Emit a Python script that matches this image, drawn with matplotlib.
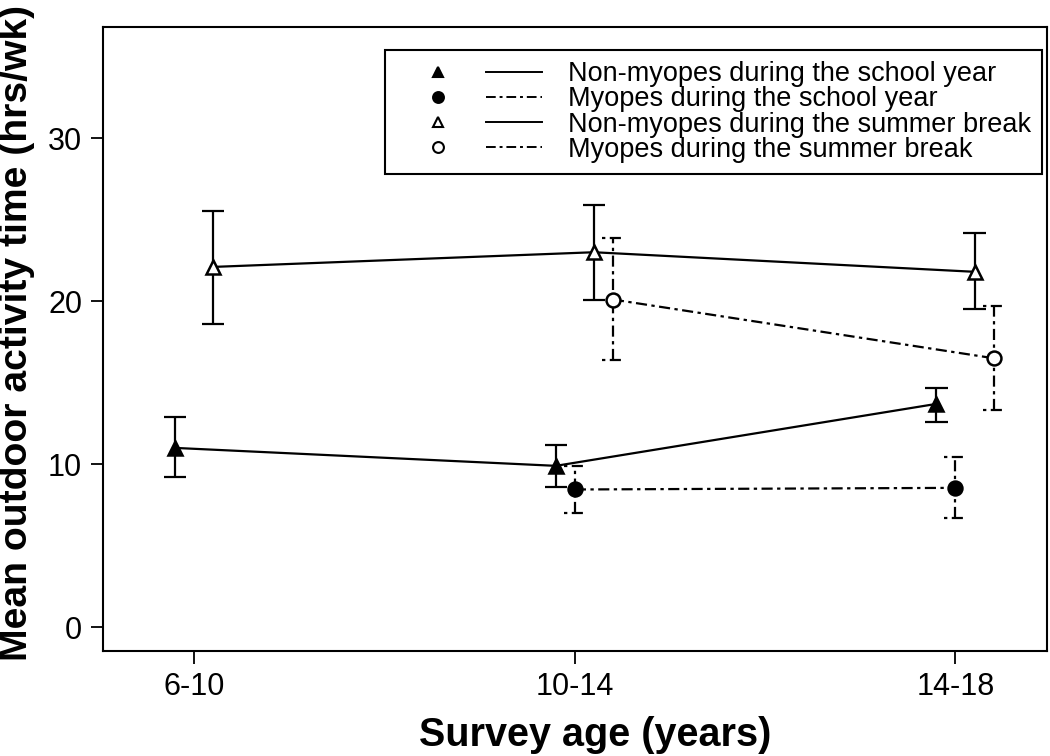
import matplotlib
matplotlib.use("Agg")
import numpy as np
import matplotlib.pyplot as plt
from matplotlib.lines import Line2D
from matplotlib.legend_handler import HandlerBase

plt.rcParams["font.family"] = ["Liberation Sans", "DejaVu Sans"]

# survey age groups
ages = ["6-10", "10-14", "14-18"]

# mean outdoor time (hrs/wk) with lower / upper error bar ends
nm_school = [11.0, 9.9, 13.7]
nm_school_lo = [9.2, 8.6, 12.6]
nm_school_hi = [12.9, 11.2, 14.7]

m_school = [np.nan, 8.45, 8.55]
m_school_lo = [np.nan, 7.0, 6.7]
m_school_hi = [np.nan, 9.9, 10.45]

nm_summer = [22.1, 23.0, 21.8]
nm_summer_lo = [18.6, 20.1, 19.5]
nm_summer_hi = [25.5, 25.9, 24.2]

m_summer = [np.nan, 20.1, 16.5]
m_summer_lo = [np.nan, 16.4, 13.3]
m_summer_hi = [np.nan, 23.9, 19.7]

labels = [
    "Non-myopes during the school year",
    "Myopes during the school year",
    "Non-myopes during the summer break",
    "Myopes during the summer break",
]

DASHDOT = (0, (5, 2, 1.5, 2))
CAP_DASHDOT = (7, (5, 2, 1.5, 2))  # start on the dot so caps look centred

# (values, lo, hi, x offset, marker, filled, linestyle, cap style)
series = [
    (nm_school, nm_school_lo, nm_school_hi, -0.05, "^", True, "-", "-"),
    (m_school, m_school_lo, m_school_hi, 0.0, "o", True, DASHDOT, CAP_DASHDOT),
    (nm_summer, nm_summer_lo, nm_summer_hi, 0.05, "^", False, "-", "-"),
    (m_summer, m_summer_lo, m_summer_hi, 0.10, "o", False, DASHDOT, CAP_DASHDOT),
]


class MarkerThenLine(HandlerBase):
    """Legend key: marker on its own, then a separate line sample."""

    def __init__(self, marker_at=0.29, line_from=0.617):
        super().__init__()
        self.marker_at = marker_at
        self.line_from = line_from

    def create_artists(self, legend, orig_handle, xdescent, ydescent,
                       width, height, fontsize, trans):
        mk, ln = orig_handle
        y = height / 2 - ydescent
        m = Line2D([width * self.marker_at - xdescent], [y])
        m.update_from(mk)
        m.set_transform(trans)
        l = Line2D([width * self.line_from - xdescent, width - xdescent], [y, y])
        l.update_from(ln)
        l.set_transform(trans)
        return [l, m]


fig = plt.figure(figsize=(10.5, 7.56), dpi=100)
ax = fig.add_axes([0.098, 0.139, 0.899, 0.825])

cap = 0.029
handles = []
for vals, lo, hi, off, mk, filled, ls, cls in series:
    y = np.array(vals, float)
    lo = np.array(lo, float)
    hi = np.array(hi, float)
    x = np.arange(len(ages)) + off
    ok = ~np.isnan(y)
    ax.plot(x[ok], y[ok], ls=ls, color="k", lw=1.6, zorder=2)
    ax.vlines(x[ok], lo[ok], hi[ok], linestyles=[ls], colors="k", lw=1.6, zorder=2)
    ax.hlines(lo[ok], x[ok] - cap, x[ok] + cap, linestyles=[cls], colors="k", lw=1.6, zorder=2)
    ax.hlines(hi[ok], x[ok] - cap, x[ok] + cap, linestyles=[cls], colors="k", lw=1.6, zorder=2)
    face = "k" if filled else "white"
    ax.plot(x[ok], y[ok], marker=mk, ms=10, mfc=face, mec="k", mew=1.8,
            ls="none", zorder=3)
    handles.append((
        Line2D([], [], marker=mk, ms=7.8, mfc=face, mec="k", mew=1.5, ls="none"),
        Line2D([], [], ls=ls, color="k", lw=1.4),
    ))

fs = 19.5
fs_px = fs * 100 / 72
leg = ax.legend(
    handles, labels,
    handler_map={tuple: MarkerThenLine()},
    loc="upper left", bbox_to_anchor=(0.2987, 0.963), borderaxespad=0,
    fontsize=fs, handlelength=146 / fs_px, handletextpad=26 / fs_px,
    labelspacing=-0.03, borderpad=0.4, fancybox=False, framealpha=1,
    edgecolor="k",
)
leg.get_frame().set_linewidth(1.5)

ax.set_xlim(-0.24, 2.24)
ax.set_ylim(-1.45, 36.8)
ax.set_xticks(range(len(ages)))
ax.set_xticklabels(ages)
ax.set_yticks([0, 10, 20, 30])
ax.tick_params(direction="out", length=9, width=1.3, labelsize=22, pad=6,
               top=False, right=False)
for s in ax.spines.values():
    s.set_linewidth(1.5)

ax.set_xlabel("Survey age (years)", fontsize=28.5, fontweight="bold")
ax.set_ylabel("Mean outdoor activity time (hrs/wk)", fontsize=28.2, fontweight="bold")
ax.xaxis.set_label_coords(0.521, -0.105)
ax.yaxis.set_label_coords(-0.072, 0.51)

fig.savefig("out.png", dpi=100)
